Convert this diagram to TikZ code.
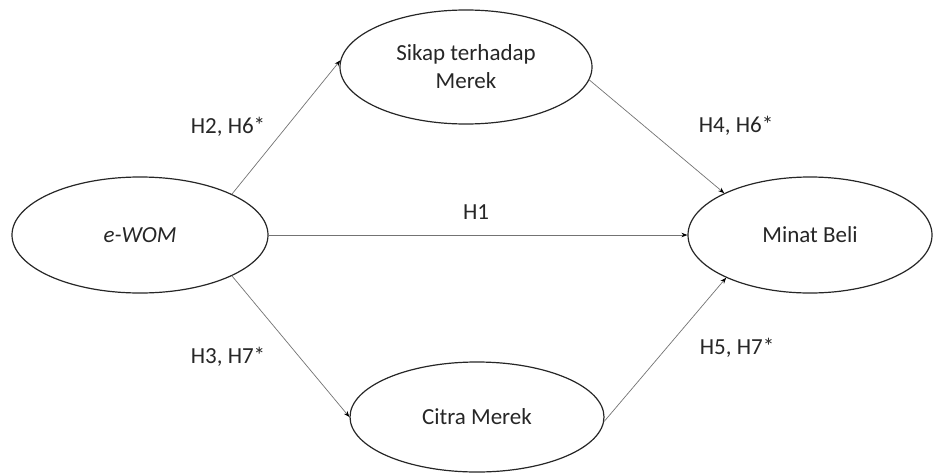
\documentclass[tikz,border=0pt]{standalone}
\usepackage{fontspec}
\setmainfont{Carlito}
\usetikzlibrary{positioning,shapes,arrows.meta}
\usepackage{xcolor}

\begin{document}
\begin{tikzpicture}[x=1pt,y=-1pt,
    f/.style={-{Stealth[length=6pt,width=4.5pt,black]},draw=black!55,line width=0.7pt},%
    s/.style={draw=black!85,ellipse,line width=1.2pt,inner sep=0pt,align=center,
      font=\fontsize{23}{28}\selectfont,text=black!85},%
    h/.style={inner sep=0pt,font=\fontsize{23}{28}\selectfont,text=black!85}]
    \useasboundingbox (0,0) rectangle (934,474);
    \node[s,minimum width=256pt,minimum height=116pt] (ewom) at (140,235) {\textit{e-WOM}} ;
    \node[s,minimum width=252pt,minimum height=114pt] (sikap) at (466,67) {Sikap terhadap\\Merek} ;
    \node[s,minimum width=254pt,minimum height=110pt] (citra) at (477,417) {Citra Merek} ;
    \node[s,minimum width=244pt,minimum height=116pt] (minat) at (810,235) {Minat Beli} ;

    \draw[f] (ewom.24) -- (sikap.177) ;
    \draw[f] (ewom.east) -- (minat.west) ;
    \draw[f] (ewom.-24) -- (citra.west) ;
    \draw[f] (sikap.-6) -- (minat.154) ;
    \draw[f] (citra.-2) -- (minat.-153) ;

    \node[h] (h26) at (228,127) {H2, H6*} ;
    \node[h] (h1) at (476,212) {H1} ;
    \node[h] (h46) at (736,126) {H4, H6*} ;
    \node[h] (h37) at (228,357) {H3, H7*} ;
    \node[h] (h57) at (737,348) {H5, H7*} ;
\end{tikzpicture}
\end{document}
